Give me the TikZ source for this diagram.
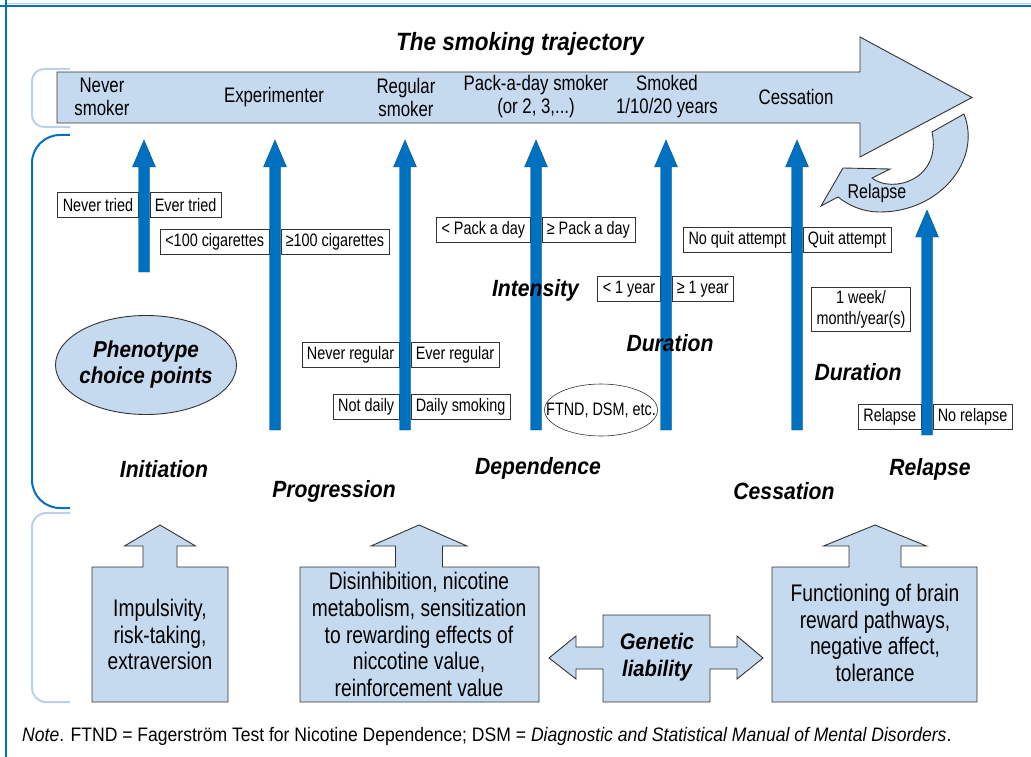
\documentclass[tikz,border=0pt]{standalone}
\usepackage{fontspec}
\setmainfont[FakeStretch=0.8]{Liberation Sans}
\newfontfamily\labfont[FakeStretch=0.9]{Liberation Sans}
\usetikzlibrary{shapes.geometric}

\definecolor{trajblue}{HTML}{0070C0}
\definecolor{skyfill}{HTML}{C5D9EF}
\definecolor{paleline}{HTML}{BCD0E8}
\definecolor{edgegray}{HTML}{333333}

\tikzset{
  lightfill/.style={fill=skyfill, draw=edgegray, line width=0.9pt},
  upblock/.style={fill=trajblue, draw=trajblue!75!black, line width=0.4pt},
  choice/.style={draw=edgegray, fill=white, line width=0.6pt, inner xsep=5pt,
    minimum height=25pt, font=\fontsize{18}{21}\selectfont},
  stage/.style={align=center, font=\fontsize{21}{23}\selectfont},
  phase/.style={font=\labfont\bfseries\itshape\fontsize{23.5}{26}\selectfont},
  factor/.style={align=center, font=\fontsize{24}{26.8}\selectfont},
  bracket/.style={line width=2pt, rounded corners=#1},
}

\begin{document}
\begin{tikzpicture}[x=1pt, y=-1pt]
\useasboundingbox (0,0) rectangle (1031,757);

% frame
\draw[paleline, line width=1pt] (7,3.5) -- (1031,3.5);
\draw[trajblue, line width=2.5pt] (0,6) -- (1031,6);
\draw[trajblue, line width=2.5pt] (6,0) -- (6,757);

% side brackets
\draw[bracket=12pt, paleline] (70,69) -- (32,69) -- (32,127) -- (70,127);
\draw[bracket=28pt, trajblue] (70,135) -- (32,135) -- (32,508) -- (70,508);
\draw[bracket=14pt, paleline] (70,513) -- (32,513) -- (32,702) -- (70,702);

\node[phase, font=\labfont\bfseries\itshape\fontsize{25}{28}\selectfont] (title) at (520,44) {The smoking trajectory};

% trajectory arrow
\draw[lightfill] (57,72) -- (860,72) -- (860,37) -- (972,97.5) -- (860,157)
  -- (860,123) -- (57,123) -- cycle;

\node[stage] (never) at (102,97) {Never\\smoker};
\node[stage] (exper) at (274,97) {Experimenter};
\node[stage] (regular) at (406,97) {Regular\\smoker};
\node[stage] (pack) at (536,97) {Pack-a-day smoker\\(or 2, 3,...)};
\node[stage] (smoked) at (667,97) {Smoked\\1/10/20 years};
\node[stage] (cess) at (796,97) {Cessation};

% relapse loop
\draw[lightfill] (932,132) -- (964,114) .. controls (982,160) and (940,212) .. (880,212)
  .. controls (862,212) and (848,205) .. (838,197) -- (821,206) -- (843,168)
  -- (890,169) -- (872,178) .. controls (892,194) and (942,180) .. (932,132) -- cycle;
\node[font=\fontsize{20}{22}\selectfont] (relapseloop) at (877,193) {Relapse};

% choice boxes, split by the arrows
\foreach \x/\y/\lt/\rt [count=\i] in {
  144/205/Never tried/Ever tried,
  275/242/{<100 cigarettes}/{≥100 cigarettes},
  536/230/{< Pack a day}/{≥ Pack a day},
  405/355/Never regular/Ever regular,
  405/407/Not daily/Daily smoking,
  666/289/{< 1 year}/{≥ 1 year},
  797/240/No quit attempt/Quit attempt,
  927/417/Relapse/No relapse}
{
  \node[choice, anchor=east] (no\i) at (\x-5.5,\y) {\lt};
  \node[choice, anchor=west] (yes\i) at (\x+5.5,\y) {\rt};
}
\node[choice, align=center, inner ysep=3pt] (span) at (861,309.5) {1 week/\\month/year(s)};
\draw[edgegray, line width=0.6pt] (601,410) ellipse [x radius=56.5, y radius=26];
\node[font=\fontsize{18}{21}\selectfont] (ftnd) at (601,410) {FTND, DSM, etc.};

% blue arrows
\def \shaft {5.5}
\def \head {11.5}
\foreach \x/\top/\bot in {144/140/272, 275/140/430, 405/140/430, 536/140/430,
  666/140/430, 797/140/430, 927/210/435}
{
  \draw[upblock] (\x-\shaft,\bot) -- (\x-\shaft,\top+27) -- (\x-\head,\top+27)
    -- (\x,\top) -- (\x+\head,\top+27) -- (\x+\shaft,\top+27) -- (\x+\shaft,\bot) -- cycle;
}

\draw[lightfill] (146,365) ellipse [x radius=90.5, y radius=49.5];
\node[phase, align=center, font=\labfont\bfseries\itshape\fontsize{23}{26}\selectfont]
  (pheno) at (146,365) {Phenotype\\choice points};

\node[phase] (intens) at (535.5,290) {Intensity};
\node[phase] (dur1) at (670,343) {Duration};
\node[phase] (dur2) at (858,372) {Duration};
\node[phase] (init) at (164,469) {Initiation};
\node[phase] (prog) at (334,491) {Progression};
\node[phase] (dep) at (538,468) {Dependence};
\node[phase] (cessl) at (784,491) {Cessation};
\node[phase] (relap) at (930,469) {Relapse};

% liability blocks
\foreach \l/\r/\c/\sw/\hw in {92/228/160/17/35.5, 300/539/419/23.5/48, 772/977/875/26/51.5}
{
  \draw[lightfill] (\l,702) -- (\l,567) -- (\c-\sw,567) -- (\c-\sw,546) -- (\c-\hw,546)
    -- (\c,525) -- (\c+\hw,546) -- (\c+\sw,546) -- (\c+\sw,567) -- (\r,567) -- (\r,702) -- cycle;
}
\node[factor] (impuls) at (160,634.5) {Impulsivity,\\risk-taking,\\extraversion};
\node[factor] (disinh) at (419,634.5) {Disinhibition, nicotine\\metabolism, sensitization\\to rewarding effects of\\niccotine value,\\reinforcement value};
\node[factor] (reward) at (875,633) {Functioning of brain\\reward pathways,\\negative affect,\\tolerance};

\draw[lightfill] (603,615) -- (710,615) -- (710,647) -- (737,647) -- (737,636) -- (763,658)
  -- (737,679) -- (737,669) -- (710,669) -- (710,702) -- (603,702) -- (603,669)
  -- (576,669) -- (576,679) -- (549,658) -- (576,636) -- (576,647) -- (603,647) -- cycle;
\node[phase, align=center, font=\labfont\bfseries\itshape\fontsize{22.5}{27}\selectfont]
  (genetic) at (657,657) {Genetic\\liability};

\node[anchor=west, inner xsep=0pt, font=\labfont\fontsize{19.5}{22}\selectfont] (note) at (22,736)
  {\textit{Note}. FTND = Fagerström Test for Nicotine Dependence; DSM = \textit{Diagnostic and Statistical Manual of Mental Disorders}.};
\end{tikzpicture}
\end{document}
